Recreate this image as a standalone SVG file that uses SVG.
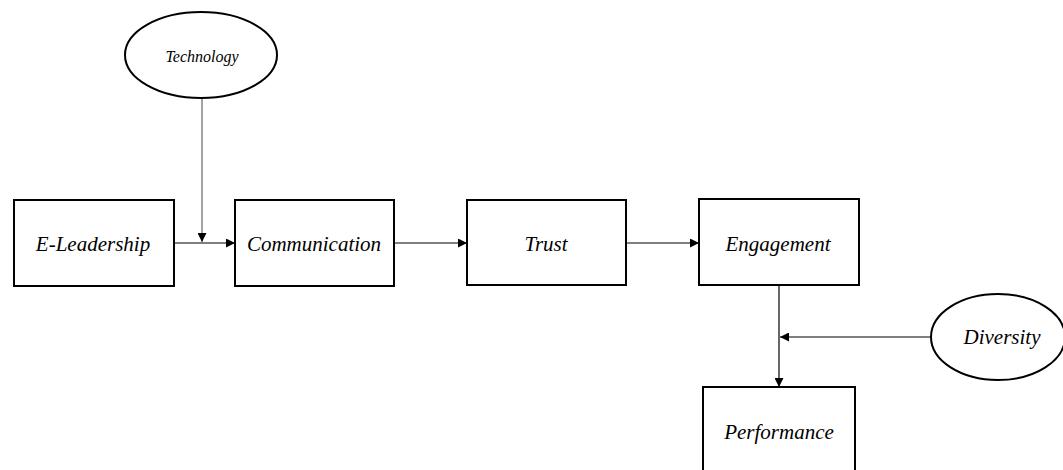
<svg xmlns="http://www.w3.org/2000/svg" width="1063" height="470" viewBox="0 0 1063 470">
<style>
.box{fill:#fff;stroke:#000;stroke-width:2}
.ell{fill:#fff;stroke:#000;stroke-width:2}
.lbl{font-family:"Liberation Serif",serif;font-style:italic;font-size:21px;fill:#000;text-anchor:middle}
.sm{font-size:16px}
.ln{stroke:#000;stroke-width:1.2;fill:none}
</style>
<defs>
<marker id="ah" viewBox="0 0 10 10" refX="10" refY="5" markerWidth="10" markerHeight="9" markerUnits="userSpaceOnUse" orient="auto">
<path d="M0,0 L10,5 L0,10 Z" fill="#000"/>
</marker>
</defs>
<g id="connectors">
<line class="ln" x1="174" y1="243" x2="235" y2="243" marker-end="url(#ah)"/>
<line class="ln" x1="202" y1="98" x2="202" y2="242" style="stroke:#666" marker-end="url(#ah)"/>
<line class="ln" x1="394" y1="243" x2="467" y2="243" marker-end="url(#ah)"/>
<line class="ln" x1="626" y1="243" x2="699" y2="243" marker-end="url(#ah)"/>
<line class="ln" x1="779" y1="285" x2="779" y2="387" marker-end="url(#ah)"/>
<line class="ln" x1="931" y1="337" x2="780" y2="337" marker-end="url(#ah)"/>
</g>
<g id="technology">
<ellipse class="ell" cx="201" cy="55" rx="76" ry="43"/>
<text class="lbl sm" x="202" y="62">Technology</text>
</g>
<g id="e-leadership">
<rect class="box" x="14" y="200" width="160" height="86"/>
<text class="lbl" x="93" y="251">E-Leadership</text>
</g>
<g id="communication">
<rect class="box" x="235" y="200" width="159" height="86"/>
<text class="lbl" x="314" y="251">Communication</text>
</g>
<g id="trust">
<rect class="box" x="467" y="200" width="159" height="85"/>
<text class="lbl" x="546" y="251">Trust</text>
</g>
<g id="engagement">
<rect class="box" x="699" y="199" width="160" height="86"/>
<text class="lbl" x="778" y="251">Engagement</text>
</g>
<g id="diversity">
<ellipse class="ell" cx="998" cy="337" rx="67" ry="43"/>
<text class="lbl" x="1002" y="344">Diversity</text>
</g>
<g id="performance">
<rect class="box" x="703" y="387" width="152" height="90"/>
<text class="lbl" x="779" y="439">Performance</text>
</g>
</svg>
